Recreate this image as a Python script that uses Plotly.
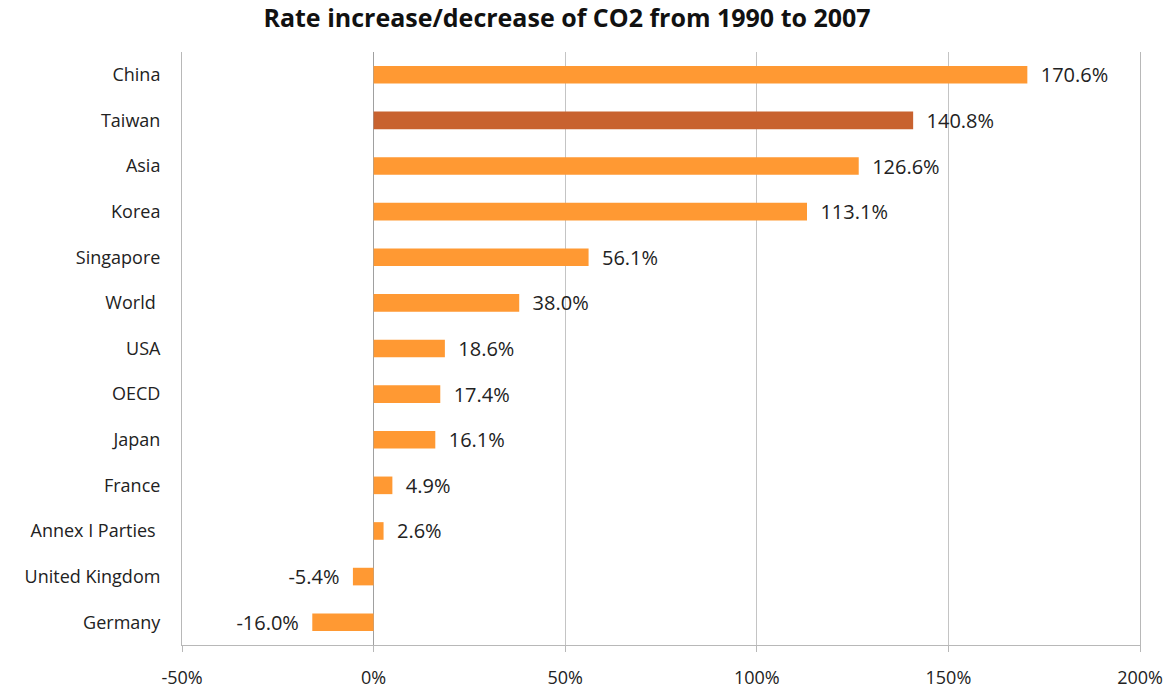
import plotly.graph_objects as go

regions = ["China", "Taiwan", "Asia", "Korea", "Singapore", "World\u00a0", "USA", "OECD",
           "Japan", "France", "Annex I Parties\u00a0", "United Kingdom", "Germany"]
change_pct = [170.6, 140.8, 126.6, 113.1, 56.1, 38.0, 18.6, 17.4, 16.1, 4.9, 2.6, -5.4, -16.0]
highlight = "Taiwan"
tick_vals = [-50, 0, 50, 100, 150, 200]
tick_text = ["-50%", "0%", "50%", "100%", "150%", "200%"]

ORANGE = "#FF9933"
RUST = "#C8622F"
FONT = "Open Sans, sans-serif"
GAP = "\u00a0\u00a0"

colors = [RUST if r == highlight else ORANGE for r in regions]
labels = [(GAP + f"{v:.1f}%") if v >= 0 else (f"{v:.1f}%" + GAP) for v in change_pct]

fig = go.Figure(go.Bar(
    y=regions,
    x=change_pct,
    orientation="h",
    marker=dict(color=colors, line=dict(width=0)),
    width=0.386,
    text=labels,
    textposition="outside",
    constraintext="none",
    textfont=dict(family=FONT, size=20, color="#222222"),
    cliponaxis=False,
))

fig.update_layout(
    width=1174, height=695,
    margin=dict(l=182, r=34, t=52, b=50),
    paper_bgcolor="white", plot_bgcolor="white",
    title=dict(text="<b>Rate increase/decrease of CO2 from 1990 to 2007</b>",
               x=0.483, xanchor="center", y=0.974, yanchor="middle",
               font=dict(family=FONT, size=25, color="#111111")),
    showlegend=False,
    font=dict(family=FONT, size=18, color="#222222"),
)

fig.update_xaxes(
    range=[-50, 200], tickvals=tick_vals, ticktext=tick_text,
    showgrid=True, gridcolor="#c4c4c4", gridwidth=1,
    zeroline=True, zerolinecolor="#a0a0a0", zerolinewidth=1,
    showline=True, linecolor="#b8b8b8", linewidth=1,
    ticks="outside", ticklen=6, tickcolor="#b8b8b8",
    ticklabelstandoff=10, automargin=False,
    tickfont=dict(family=FONT, size=18, color="#222222"),
)
fig.update_yaxes(
    categoryorder="array", categoryarray=regions[::-1],
    showgrid=False, showline=True, linecolor="#b8b8b8", linewidth=1, mirror=True,
    ticks="", ticklabelstandoff=17, automargin=False,
    tickfont=dict(family=FONT, size=18, color="#222222"),
)

fig.write_html("out.html")
